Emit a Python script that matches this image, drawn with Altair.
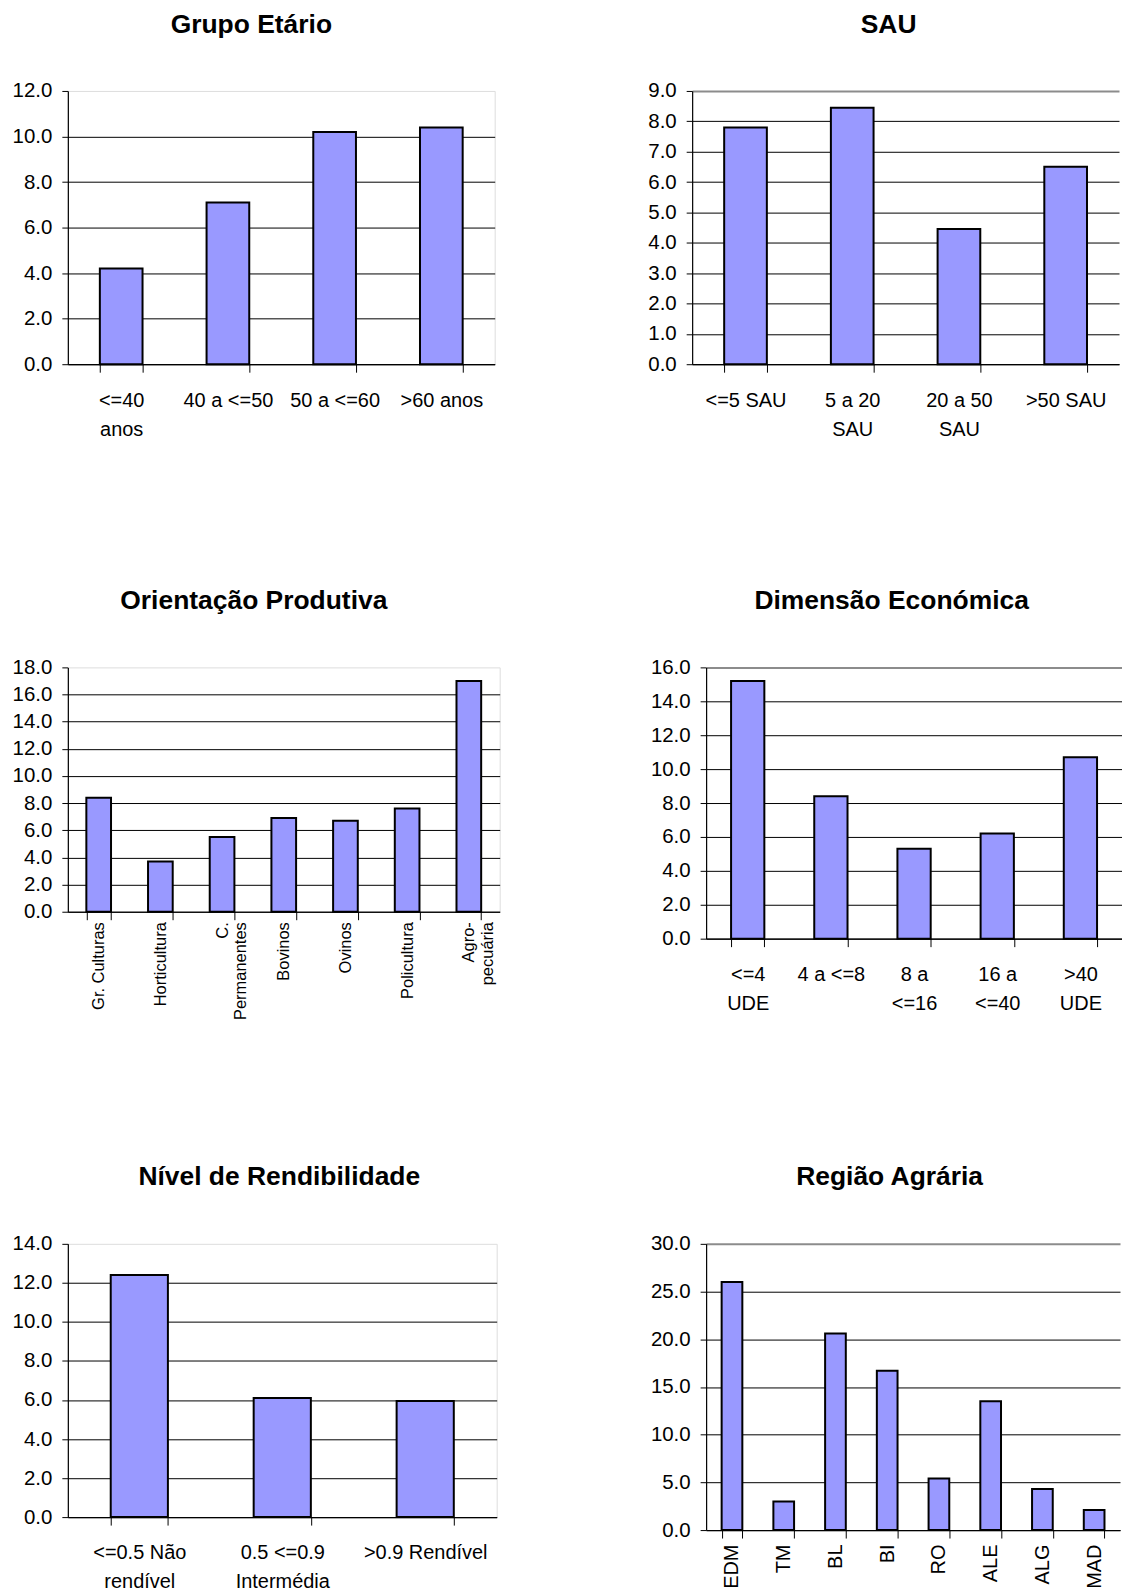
import altair as alt
import pandas as pd

FONT = "Liberation Sans"
BAR_FILL = "#9999ff"
FRAME = "#8c8c8c"

# ---- data ----
age_cats = ["<=40|anos", "40 a <=50", "50 a <=60", ">60 anos"]
age_vals = [4.2, 7.1, 10.2, 10.4]

sau_cats = ["<=5 SAU", "5 a 20|SAU", "20 a 50|SAU", ">50 SAU"]
sau_vals = [7.8, 8.45, 4.45, 6.5]

otex_cats = ["Gr. Culturas", "Horticultura", "C.|Permanentes", "Bovinos",
             "Ovinos", "Policultura", "Agro-|pecuária"]
otex_vals = [8.4, 3.7, 5.5, 6.9, 6.7, 7.6, 17.0]

ude_cats = ["<=4|UDE", "4 a <=8", "8 a|<=16", "16 a|<=40", ">40|UDE"]
ude_vals = [15.2, 8.4, 5.3, 6.2, 10.7]

rend_cats = ["<=0.5 Não|rendível", "0.5 <=0.9|Intermédia", ">0.9 Rendível"]
rend_vals = [12.4, 6.1, 5.95]

reg_cats = ["EDM", "TM", "BL", "BI", "RO", "ALE", "ALG", "MAD"]
reg_vals = [26.0, 3.0, 20.6, 16.7, 5.4, 13.5, 4.3, 2.1]


def panel(cats, vals, title, ymax, ystep, width, height, title_dx,
          ex, ey, rotated=False, xlab_size=20, xlab_pad=18, xlab_lh=29,
          right_col=False):
    df = pd.DataFrame({"cat": cats, "val": vals})
    n = int(round(ymax / ystep))
    ticks = [round(i * ystep, 6) for i in range(n + 1)]
    xaxis_kw = dict(
        title=None,
        labelExpr="split(datum.label, '|')",
        tickBand="extent",
        tickSize=8,
        tickColor="black",
        domainColor="black",
        domainWidth=1.2,
        labelFontSize=xlab_size,
        labelLineHeight=xlab_lh,
        labelPadding=xlab_pad,
        labelOverlap=False,
        labelLimit=1000,
        labelColor="black",
        labelFont=FONT,
        grid=False,
        minExtent=ex,
        maxExtent=ex,
    )
    if rotated:
        xaxis_kw.update(labelAngle=270, labelAlign="right", labelBaseline="middle")
    else:
        xaxis_kw.update(labelAngle=0, labelAlign="center", labelBaseline="top")
    top_test = f"datum.value >= {ymax}"
    if right_col:
        grid_kw = dict(
            gridColor={"condition": {"test": top_test, "value": FRAME}, "value": "#000000"},
            gridWidth={"condition": {"test": top_test, "value": 2}, "value": 1},
        )
    else:
        grid_kw = dict(
            gridColor="#000000",
            gridWidth=1,
            gridOpacity={"condition": {"test": top_test, "value": 0}, "value": 1},
        )
    yaxis = alt.Axis(
        title=None,
        values=ticks,
        format=".1f",
        tickSize=6,
        tickColor="black",
        domainColor="black",
        domainWidth=1.2,
        labelPadding=10,
        labelFontSize=20.5,
        labelFont=FONT,
        labelColor="black",
        grid=True,
        minExtent=ey,
        maxExtent=ey,
        **grid_kw,
    )
    props = dict(
        width=width, height=height,
        title=alt.Title(title, fontSize=26.5, font=FONT, fontWeight="bold",
                        color="black", anchor="middle", frame="group",
                        dx=title_dx, offset=43),
    )
    if right_col:
        props["view"] = alt.ViewBackground(strokeOpacity=0)
    return alt.Chart(df).mark_bar(
        fill=BAR_FILL, stroke="black", strokeWidth=2
    ).encode(
        x=alt.X("cat:N", sort=cats,
                scale=alt.Scale(paddingInner=0.6, paddingOuter=0.3),
                axis=alt.Axis(**xaxis_kw)),
        y=alt.Y("val:Q", scale=alt.Scale(domain=[0, ymax], nice=False),
                axis=yaxis),
    ).properties(**props)


c1 = panel(age_cats, age_vals, "Grupo Etário", 12, 2, 428, 274, -30, 83, 59)
c2 = panel(sau_cats, sau_vals, "SAU", 9, 1, 428, 274, -17, 83, 59, right_col=True)
c3 = panel(otex_cats, otex_vals, "Orientação Produtiva", 18, 2, 433, 245, -30,
           112, 56, rotated=True, xlab_size=16.5, xlab_pad=2, xlab_lh=19)
c4 = panel(ude_cats, ude_vals, "Dimensão Económica", 16, 2, 417, 272, -22.5, 85, 59,
           right_col=True)
c5 = panel(rend_cats, rend_vals, "Nível de Rendibilidade", 14, 2, 430, 274, -3, 85, 58)
c6 = panel(reg_cats, reg_vals, "Região Agrária", 30, 5, 415, 287, -23.5,
           85, 59, rotated=True, xlab_size=20, xlab_pad=6, xlab_lh=22, right_col=True)

row1 = alt.hconcat(c1, c2, spacing=138)
row2 = alt.hconcat(c3, c4, spacing=147)
row3 = alt.hconcat(c5, c6, spacing=150)

chart = alt.vconcat(row1, row2, row3, spacing=140).properties(
    padding={"left": 0, "top": 1, "right": 0, "bottom": 0}
).configure_view(
    stroke=FRAME, strokeWidth=2
).configure(
    background="white", font=FONT
)

chart.save("out.html", embed_options={"renderer": "svg", "actions": False})
